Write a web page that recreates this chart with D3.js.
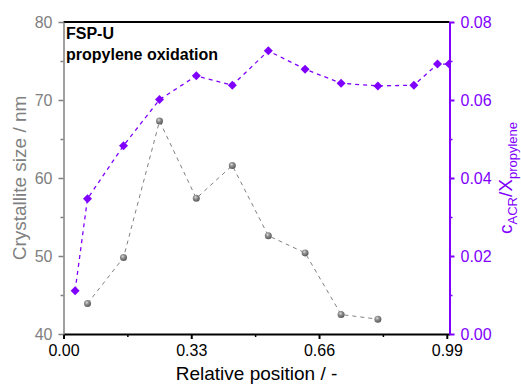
<!DOCTYPE html>
<html>
<head>
<meta charset="utf-8">
<script src="https://cdn.jsdelivr.net/npm/d3@7"></script>
<style>
  html, body { margin: 0; padding: 0; background: #fff; }
  svg { display: block; font-family: "Liberation Sans", Arial, sans-serif; }
</style>
</head>
<body>
<svg id="chart" width="521" height="385"></svg>
<script>
// Relative position along the reactor and measured quantities
const ratioPos  = [0.030, 0.062, 0.155, 0.248, 0.343, 0.436, 0.529, 0.624, 0.717, 0.812, 0.905, 0.966, 0.996];
const ratioVals = [0.0111, 0.0347, 0.0483, 0.0601, 0.0662, 0.0638, 0.0726, 0.0679, 0.0643, 0.0636, 0.0638, 0.0692, 0.0692];
const sizePos   = [0.062, 0.155, 0.248, 0.343, 0.436, 0.529, 0.624, 0.717, 0.812];
const sizeVals  = [43.9, 49.8, 67.3, 57.4, 61.6, 52.6, 50.4, 42.5, 41.9];

const xTicks = [0, 0.33, 0.66, 0.99];
const xMinor = [0.165, 0.495, 0.825];
const yLeftTicks = [40, 50, 60, 70, 80];
const yLeftMinor = [45, 55, 65, 75];
const yRightTicks = [0, 0.02, 0.04, 0.06, 0.08];
const yRightMinor = [0.01, 0.03, 0.05, 0.07];

const GRAY = "#808080";
const PURPLE = "#7f00ff";

const svg = d3.select("#chart");
const m = { left: 63.5, right: 449.5, top: 22, bottom: 334 };

const x = d3.scaleLinear().domain([0, 0.997]).range([m.left, m.right]);
const yL = d3.scaleLinear().domain([40, 80]).range([m.bottom, m.top]);
const yR = d3.scaleLinear().domain([0, 0.08]).range([m.bottom, m.top]);

const defs = svg.append("defs");
defs.append("clipPath").attr("id", "plotClip")
  .append("rect").attr("x", m.left).attr("y", m.top - 10)
  .attr("width", m.right - m.left).attr("height", m.bottom - m.top + 10);
const grad = defs.append("radialGradient").attr("id", "sphere")
  .attr("cx", "40%").attr("cy", "35%").attr("r", "65%");
grad.append("stop").attr("offset", "0%").attr("stop-color", "#d8d8d8");
grad.append("stop").attr("offset", "45%").attr("stop-color", "#8a8a8a");
grad.append("stop").attr("offset", "100%").attr("stop-color", "#5a5a5a");

const plot = svg.append("g").attr("clip-path", "url(#plotClip)");

// Crystallite size series
const sizeData = sizePos.map((p, i) => [p, sizeVals[i]]);
plot.append("path")
  .datum(sizeData)
  .attr("fill", "none").attr("stroke", GRAY).attr("stroke-width", 1)
  .attr("stroke-dasharray", "4,4")
  .attr("d", d3.line().x(d => x(d[0])).y(d => yL(d[1])));
plot.selectAll("circle.size").data(sizeData).join("circle")
  .attr("class", "size")
  .attr("cx", d => x(d[0])).attr("cy", d => yL(d[1])).attr("r", 3.5)
  .attr("fill", "url(#sphere)");

// Concentration ratio series
const ratioData = ratioPos.map((p, i) => [p, ratioVals[i]]);
plot.append("path")
  .datum(ratioData)
  .attr("fill", "none").attr("stroke", PURPLE).attr("stroke-width", 1.3)
  .attr("stroke-dasharray", "4,4")
  .attr("d", d3.line().x(d => x(d[0])).y(d => yR(d[1])));
const dh = 4.5;
plot.selectAll("path.ratio").data(ratioData).join("path")
  .attr("class", "ratio")
  .attr("d", d => {
    const cx = x(d[0]), cy = yR(d[1]);
    return `M${cx},${cy - dh}L${cx + dh},${cy}L${cx},${cy + dh}L${cx - dh},${cy}Z`;
  })
  .attr("fill", PURPLE);

// Axes
function styleAxis(g, color, width, fontSize) {
  g.select(".domain").attr("stroke", color).attr("stroke-width", width);
  g.selectAll(".tick line").attr("stroke", color).attr("stroke-width", width);
  g.selectAll(".tick text").attr("fill", color).attr("font-size", fontSize)
    .attr("font-family", "Liberation Sans, Arial, sans-serif");
}

// top frame line
svg.append("line").attr("x1", m.left).attr("x2", m.right)
  .attr("y1", m.top).attr("y2", m.top)
  .attr("stroke", "#000").attr("stroke-width", 2);

const gxMinor = svg.append("g").attr("transform", `translate(0,${m.bottom})`)
  .call(d3.axisBottom(x).tickValues(xMinor).tickSize(3).tickFormat(""));
styleAxis(gxMinor, "#000", 1.5, 16);
gxMinor.select(".domain").remove();
const gx = svg.append("g").attr("transform", `translate(0,${m.bottom})`)
  .call(d3.axisBottom(x).tickValues(xTicks).tickSize(5).tickSizeOuter(0).tickPadding(6).tickFormat(d3.format(".2f")));
styleAxis(gx, "#000", 2, 16);

const gyLMinor = svg.append("g").attr("transform", `translate(${m.left},0)`)
  .call(d3.axisLeft(yL).tickValues(yLeftMinor).tickSize(3).tickFormat(""));
styleAxis(gyLMinor, GRAY, 1.5, 16);
gyLMinor.select(".domain").remove();
const gyL = svg.append("g").attr("transform", `translate(${m.left},0)`)
  .call(d3.axisLeft(yL).tickValues(yLeftTicks).tickSize(5).tickSizeOuter(0).tickPadding(6));
styleAxis(gyL, GRAY, 1.5, 16);

const gyRMinor = svg.append("g").attr("transform", `translate(${m.right},0)`)
  .call(d3.axisRight(yR).tickValues(yRightMinor).tickSize(3).tickFormat(""));
styleAxis(gyRMinor, PURPLE, 1.5, 16);
gyRMinor.select(".domain").remove();
const gyR = svg.append("g").attr("transform", `translate(${m.right},0)`)
  .call(d3.axisRight(yR).tickValues(yRightTicks).tickSize(5).tickSizeOuter(0).tickPadding(6).tickFormat(d3.format(".2f")));
styleAxis(gyR, PURPLE, 2, 16);

// Axis titles
svg.append("text")
  .attr("x", (m.left + m.right) / 2).attr("y", 380)
  .attr("text-anchor", "middle").attr("font-size", 19).attr("fill", "#000")
  .text("Relative position / -");

svg.append("text")
  .attr("transform", `translate(26,${(m.top + m.bottom) / 2}) rotate(-90)`)
  .attr("text-anchor", "middle").attr("font-size", 19).attr("fill", GRAY)
  .text("Crystallite size / nm");

const rt = svg.append("text")
  .attr("transform", `translate(512,${(m.top + m.bottom) / 2}) rotate(-90)`)
  .attr("text-anchor", "middle").attr("font-size", 19).attr("fill", PURPLE);
rt.append("tspan").text("c");
rt.append("tspan").attr("font-size", 13).attr("dy", 5).text("ACR");
rt.append("tspan").attr("dy", -5).text("/X");
rt.append("tspan").attr("font-size", 13).attr("dy", 5).text("propylene");

// Panel annotation
svg.append("text").attr("x", 66).attr("y", 39)
  .attr("font-size", 16).attr("font-weight", "bold").attr("fill", "#000")
  .text("FSP-U");
svg.append("text").attr("x", 66).attr("y", 60)
  .attr("font-size", 16).attr("font-weight", "bold").attr("fill", "#000")
  .text("propylene oxidation");
</script>
</body>
</html>
